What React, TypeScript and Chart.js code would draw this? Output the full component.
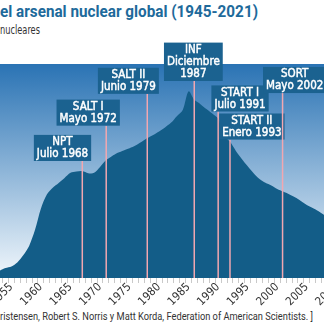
import React, { useEffect, useLayoutEffect, useRef } from "react";
import { Chart, registerables } from "chart.js";

Chart.register(...registerables);

// ---- Data (values plotted at mid-year) ----
const years = [
  1954, 1955, 1956, 1957, 1958, 1959, 1960, 1961, 1962, 1963, 1964, 1965, 1966, 1967, 1968, 1969,
  1970, 1971, 1972, 1973, 1974, 1975, 1976, 1977, 1978, 1979, 1980, 1981, 1982, 1983, 1984, 1985,
  1986, 1987, 1988, 1989, 1990, 1991, 1992, 1993, 1994, 1995, 1996, 1997, 1998, 1999, 2000, 2001,
  2002, 2003, 2004, 2005, 2006, 2007, 2008, 2009, 2010,
];
const warheads = [
  2700, 3700, 4300, 5800, 8500, 12000, 18000, 26000, 31200, 33700, 35500, 37400, 39300, 39800, 40000, 39200,
  39300, 41500, 44000, 45500, 46800, 47700, 48500, 49500, 50800, 52300, 53500, 54800, 56300, 58000, 60500, 62800,
  69800, 66500, 65000, 63200, 61500, 59500, 53200, 51000, 47500, 44500, 41800, 39200, 37000, 35600, 34600, 33300,
  32300, 31300, 30200, 28800, 27300, 26200, 25000, 23500, 22300,
];
const yTickValues = [0, 10000, 20000, 30000, 40000, 50000, 60000, 70000, 80000];
const xLabelYears = [1950, 1955, 1960, 1965, 1970, 1975, 1980, 1985, 1990, 1995, 2000, 2005, 2010, 2015];

// treaties
const treatyNames = ["NPT", "SALT I", "SALT II", "INF", "START I", "START II", "SORT"];
const treatyDates = [["Julio 1968"], ["Mayo 1972"], ["Junio 1979"], ["Diciembre", "1987"], ["Julio 1991"], ["Enero 1993"], ["Mayo 2002"]];
const treatyYears = [1968.5, 1972.55, 1979.5, 1987.45, 1991.5, 1993.5, 2002.4];

// label box placement (layout, not data)
const boxCenterYears = [1965.15, 1969.5, 1976.3, 1987.3, 1995.2, 1997.2, 2004.45];
const boxTopValues = [53500, 66700, 78600, 88000, 72000, 61500, 78900];

const COND = '"Liberation Sans Narrow", "DejaVu Sans Condensed", "Roboto", sans-serif';

function FitText({ text, width, style }: { text: string; width: number; style: React.CSSProperties }) {
  const ref = useRef<HTMLSpanElement>(null);
  useLayoutEffect(() => {
    const el = ref.current;
    if (!el) return;
    el.style.transform = "none";
    const w = el.getBoundingClientRect().width;
    if (w > 0) el.style.transform = `scaleX(${width / w})`;
  }, [text, width]);
  return (
    <span ref={ref} style={{ position: "absolute", whiteSpace: "nowrap", transformOrigin: "0 0", ...style }}>
      {text}
    </span>
  );
}

export default function App() {
  const canvasRef = useRef<HTMLCanvasElement>(null);

  useEffect(() => {
    const canvas = canvasRef.current;
    if (!canvas) return;

    const bgPlugin = {
      id: "bg",
      beforeDatasetsDraw(chart: any) {
        const { ctx, chartArea } = chart;
        const g = ctx.createLinearGradient(0, chartArea.top, 0, chartArea.bottom);
        g.addColorStop(0, "#2a73b4");
        g.addColorStop(1, "#f1f7fc");
        ctx.save();
        ctx.fillStyle = g;
        ctx.fillRect(chartArea.left, chartArea.top, chartArea.right - chartArea.left, chartArea.bottom - chartArea.top);
        ctx.restore();
      },
    };

    const xLabelPlugin = {
      id: "xlabels",
      afterDraw(chart: any) {
        const { ctx, chartArea } = chart;
        const xs = chart.scales.x;
        ctx.save();
        ctx.font = `11.5px ${COND}`;
        ctx.fillStyle = "#333333";
        ctx.textAlign = "center";
        ctx.textBaseline = "middle";
        xLabelYears.forEach((yr) => {
          const px = xs.getPixelForValue(yr);
          ctx.save();
          ctx.translate(px - 0.5, chartArea.bottom + 16.5);
          ctx.rotate(-Math.PI / 4);
          ctx.fillText(String(yr), 0, 0);
          ctx.restore();
        });
        ctx.restore();
      },
    };

    const treatyPlugin = {
      id: "treaties",
      afterDraw(chart: any) {
        const { ctx, chartArea } = chart;
        const xs = chart.scales.x;
        const ys = chart.scales.y;
        ctx.save();
        ctx.font = `11.5px ${COND}`;
        const lineH = 12.3;
        treatyNames.forEach((name, i) => {
          const lines = [name, ...treatyDates[i]];
          const tw = Math.max(...lines.map((l) => ctx.measureText(l).width));
          const bw = tw + 6;
          const bh = lines.length * lineH + 1.5;
          const cx = xs.getPixelForValue(boxCenterYears[i]);
          const top = ys.getPixelForValue(boxTopValues[i]);
          const lx = xs.getPixelForValue(treatyYears[i]);
          ctx.strokeStyle = "#f2a7b0";
          ctx.lineWidth = 1.5;
          ctx.beginPath();
          ctx.moveTo(lx, top + bh);
          ctx.lineTo(lx, chartArea.bottom);
          ctx.stroke();
          ctx.fillStyle = "#1b6290";
          ctx.fillRect(cx - bw / 2, top, bw, bh);
          ctx.fillStyle = "#ffffff";
          ctx.strokeStyle = "#ffffff";
          ctx.lineWidth = 0.45;
          ctx.textAlign = "center";
          ctx.textBaseline = "middle";
          lines.forEach((l, k) => {
            const ty = top + 1 + lineH * (k + 0.5);
            ctx.fillText(l, cx, ty);
            ctx.strokeText(l, cx, ty);
          });
        });
        ctx.restore();
      },
    };

    const chart = new Chart(canvas, {
      type: "line",
      data: {
        datasets: [
          {
            data: years.map((y, i) => ({ x: y + 0.5, y: warheads[i] })),
            fill: "origin",
            backgroundColor: "#135d88",
            borderWidth: 0,
            pointRadius: 0,
            tension: 0.3,
          },
        ],
      },
      options: {
        responsive: false,
        animation: false,
        devicePixelRatio: 1,
        layout: { padding: { left: 30, right: 20, top: 28, bottom: 0 } },
        plugins: { legend: { display: false }, tooltip: { enabled: false } },
        scales: {
          x: {
            type: "linear",
            min: 1950,
            max: 2015,
            afterFit: (s: any) => {
              s.height = 30;
            },
            ticks: {
              stepSize: 1,
              autoSkip: false,
              maxRotation: 0,
              callback: () => "",
            },
            grid: { drawOnChartArea: false, drawTicks: true, tickLength: 5, color: "#c9c9c9" },
            border: { display: false },
          },
          y: {
            min: 0,
            max: 80000,
            z: 1,
            afterFit: (s: any) => {
              s.width = 0;
            },
            afterBuildTicks: (s: any) => {
              s.ticks = yTickValues.map((v) => ({ value: v }));
            },
            ticks: { display: false },
            grid: {
              drawTicks: false,
              color: (c: any) =>
                c.tick && (c.tick.value === 0 || c.tick.value === 80000) ? "rgba(0,0,0,0)" : "rgba(105,125,150,0.55)",
            },
            border: { display: false },
          },
        },
      },
      plugins: [bgPlugin, xLabelPlugin, treatyPlugin],
    });
    return () => chart.destroy();
  }, []);

  return (
    <div style={{ position: "fixed", left: 0, top: 0, width: 324, height: 324, overflow: "hidden", background: "#fff" }}>
      <FitText
        text="el arsenal nuclear global (1945-2021)"
        width={258}
        style={{ left: 0, top: 1, fontFamily: "Roboto, sans-serif", fontWeight: 700, fontSize: 17, color: "#1e6a9b" }}
      />
      <FitText
        text="nucleares"
        width={40}
        style={{ left: 0, top: 23, fontFamily: COND, fontSize: 12, color: "#333" }}
      />
      <canvas
        ref={canvasRef}
        width={434}
        height={272}
        style={{ position: "absolute", left: -57, top: 36, width: 434, height: 272 }}
      />
      <FitText
        text="ristensen, Robert S. Norris y Matt Korda, Federation of American Scientists. ]"
        width={313}
        style={{ left: 0, top: 310, fontFamily: "Roboto, sans-serif", fontSize: 11, color: "#333" }}
      />
    </div>
  );
}
